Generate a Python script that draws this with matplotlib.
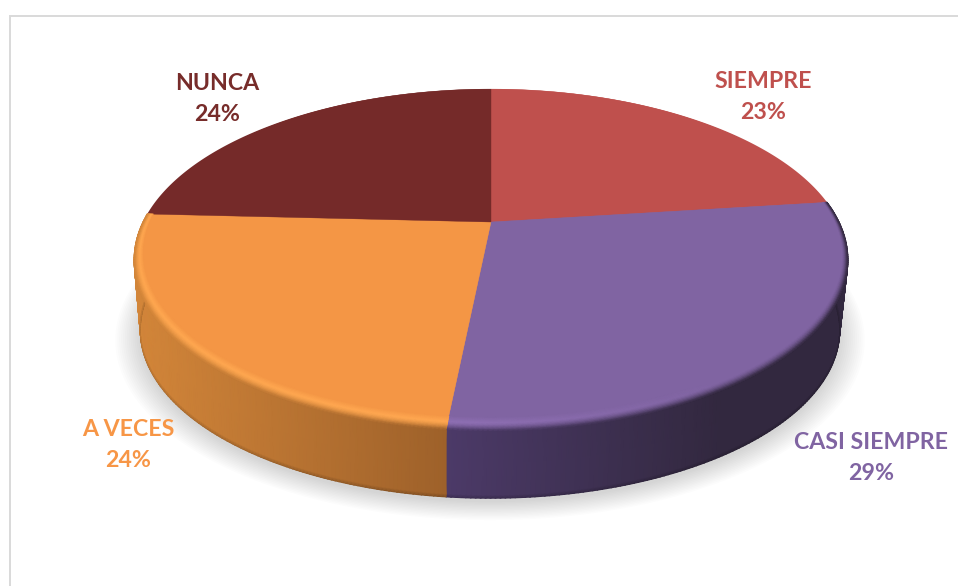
import numpy as np
import matplotlib
matplotlib.use("Agg")
import matplotlib.pyplot as plt
from matplotlib.colors import to_rgb

categories = ['SIEMPRE', 'CASI SIEMPRE', 'A VECES', 'NUNCA']
values = [23.0, 28.6, 24.2, 24.2]
pct_labels = ['23%', '29%', '24%', '24%']
colors = ['#BF504D', '#8064A2', '#F49645', '#752A29']
label_colors = ['#BF504D', '#8064A2', '#F79646', '#772C2A']
label_pos = [(763, 97), (871, 458), (128, 445), (217, 99)]

#(x0, y0, k, A, B) of the perspective circle
FACE = (491, 222, 0.189, 158, 341)
EDGE = (491, 222, 0.222, 162.5, 348)
BASE = (490, 293, 0.222, 159.7, 341)


def project(theta, p):
    x0, y0, k, A, B = p
    u, v = np.sin(np.radians(theta)), np.cos(np.radians(theta))
    w = 1 + k * v
    return x0 + B * u / w, y0 - A * v / w


def mix(c1, c2, t):
    c1, c2 = np.asarray(c1), np.asarray(c2)
    t = np.asarray(t)[..., None]
    return (1 - t) * c1 + t * c2


def side_color(name, x):
    if name == 'A VECES':
        t = np.clip((x - 140) / (447 - 140), 0, 1)
        return mix(to_rgb('#D28539'), to_rgb('#9E612A'), t)
    t = np.clip((x - 447) / (720 - 447), 0, 1)
    return mix(to_rgb('#4C3A68'), to_rgb('#32283F'), t)


fig = plt.figure(figsize=(9.58, 5.86), dpi=100)
ax = fig.add_axes([0, 0, 1, 1])
ax.set_xlim(0, 958)
ax.set_ylim(586, 0)
ax.axis('off')

#ramka
ax.plot([10, 10, 958], [586, 16, 16], color='#D9D9D9', lw=1.4, solid_joinstyle='miter')

#cien
ring = np.linspace(0, 360, 300)
for i in range(14):
    s = 1.0 + i * 0.0055
    sx, sy = project(ring, (490, 297 + i * 0.25, 0.222, 159.7 * s, 341 * s))
    ax.fill(sx, sy, color='black', alpha=0.012, lw=0, zorder=1)

edges = np.concatenate([[0], np.cumsum(values)]) * 3.6
front = ('CASI SIEMPRE', 'A VECES')

for i, name in enumerate(categories):
    th = np.linspace(edges[i], edges[i + 1], 160)
    col = to_rgb(colors[i])

    #bok
    if name in front:
        tx, ty = project(th, EDGE)
        bx, by = project(th, BASE)
        rows = np.array([0, 0.96, 1.0])[:, None]
        X = tx + rows * (bx - tx)
        Y = ty + rows * (by - ty)
        C = side_color(name, X)
        C[-1] = C[-1] * 0.8
        ax.pcolormesh(X, Y, C, shading='gouraud', zorder=2)

    #plaski klin po krawedzi
    ex, ey = project(th, EDGE)
    ax.fill(np.r_[ex, EDGE[0]], np.r_[ey, EDGE[1]], color=col, lw=0, zorder=3)

    #zaokraglenie
    if name in front:
        mid = to_rgb('#FFA750') if name == 'A VECES' else to_rgb('#8E6FB3')
        steps = np.linspace(0, 1, 12)
        X, Y = [], []
        for a in steps:
            p = tuple((1 - a) * f + a * e for f, e in zip(FACE, EDGE))
            x, y = project(th, p)
            X.append(x)
            Y.append(y)
        X, Y = np.array(X), np.array(Y)
        #na prawo podswietlenie zanika
        glow = np.ones_like(X) if name == 'A VECES' else np.clip((720 - X) / 250, 0, 1)
        M = mix(col, mid, glow)
        T = steps[:, None] * np.ones_like(X)
        C = np.where((T < 0.45)[..., None],
                     mix(col, M, 0) + (M - np.array(col)) * (T / 0.45)[..., None],
                     M + (side_color(name, X) - M) * (np.clip(T - 0.45, 0, 1) / 0.55)[..., None] ** 1.6)
        ax.pcolormesh(X, Y, C, shading='gouraud', zorder=4)

    #gorna sciana
    fx, fy = project(th, FACE)
    ax.fill(np.r_[fx, FACE[0]], np.r_[fy, FACE[1]], color=col, lw=0.3, zorder=5)

#etykiety
for name, pct, c, (x, y) in zip(categories, pct_labels, label_colors, label_pos):
    ax.text(x, y, name + '\n' + pct, color=c, ha='center', va='center', family='Lato',
            fontweight='bold', fontsize=16.7, linespacing=1.55, zorder=6)

ax.set_xlim(0, 958)
ax.set_ylim(586, 0)
fig.savefig('out.png', dpi=100)
